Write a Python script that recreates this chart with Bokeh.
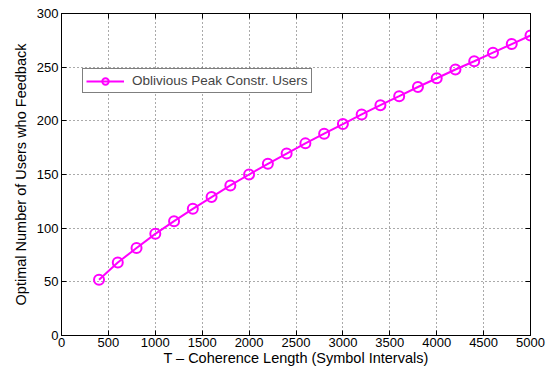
from bokeh.plotting import figure
from bokeh.models import LinearAxis, Range1d, FixedTicker, Legend, LegendItem
from bokeh.embed import file_html
from bokeh.resources import INLINE

coherence_length = [400, 600, 800, 1000, 1200, 1400, 1600, 1800, 2000, 2200, 2400, 2600,
                    2800, 3000, 3200, 3400, 3600, 3800, 4000, 4200, 4400, 4600, 4800, 5000]
optimal_users = [52, 68, 81.5, 94.7, 106.5, 118, 129, 139.8, 150, 160, 169.5, 179,
                 188, 197, 206, 214.6, 223, 231.5, 239.7, 247.8, 255.5, 263.5, 271.5, 279.5]
x_ticks = [0, 500, 1000, 1500, 2000, 2500, 3000, 3500, 4000, 4500, 5000]
y_ticks = [0, 50, 100, 150, 200, 250, 300]
series_name = "Oblivious Peak Constr. Users"

FONT = "Liberation Sans"
MAGENTA = "#ff00ff"

p = figure(width=548, height=371, output_backend="svg", toolbar_location=None,
           x_range=Range1d(0, 5000), y_range=Range1d(0, 300),
           min_border_left=61, min_border_right=18, min_border_top=13, min_border_bottom=36)
p.outline_line_color = "black"
p.outline_line_width = 1
p.background_fill_color = "white"
p.border_fill_color = "white"

for ax in (p.xaxis[0], p.yaxis[0]):
    ax.major_tick_in = 5
    ax.major_tick_out = 0
    ax.minor_tick_in = 0
    ax.minor_tick_out = 0
    ax.axis_line_color = "black"
    ax.major_label_text_font = FONT
    ax.major_label_text_font_size = "13px"
    ax.major_label_text_color = "black"
    ax.axis_label_text_font = FONT
    ax.axis_label_text_font_size = "14.5px"
    ax.axis_label_text_font_style = "normal"
    ax.axis_label_text_color = "black"

p.xaxis[0].ticker = FixedTicker(ticks=x_ticks)
p.yaxis[0].ticker = FixedTicker(ticks=y_ticks)
p.xaxis[0].axis_label = "T \u2013 Coherence Length (Symbol Intervals)"
p.yaxis[0].axis_label = "Optimal Number of Users who Feedback"
p.xaxis[0].major_label_standoff = 2
p.xaxis[0].axis_label_standoff = 0
p.yaxis[0].major_label_standoff = 3
p.yaxis[0].axis_label_standoff = 5

top = LinearAxis(ticker=FixedTicker(ticks=x_ticks), major_label_text_font_size="0px",
                 major_tick_in=5, major_tick_out=0, minor_tick_in=0, minor_tick_out=0,
                 major_label_standoff=0)
right = LinearAxis(ticker=FixedTicker(ticks=y_ticks), major_label_text_font_size="0px",
                   major_tick_in=5, major_tick_out=0, minor_tick_in=0, minor_tick_out=0,
                   major_label_standoff=0)
p.add_layout(top, "above")
p.add_layout(right, "right")

for g in (p.xgrid[0], p.ygrid[0]):
    g.grid_line_color = "#555555"
    g.grid_line_dash = "1 3"
    g.grid_line_width = 1
p.xgrid[0].ticker = FixedTicker(ticks=x_ticks)
p.ygrid[0].ticker = FixedTicker(ticks=y_ticks)

ln = p.line(coherence_length, optimal_users, line_color=MAGENTA, line_width=2)
sc = p.scatter(coherence_length, optimal_users, marker="circle", size=10,
               line_color=MAGENTA, line_width=2, fill_color=None)

legend = Legend(items=[LegendItem(label=series_name, renderers=[ln, sc])],
                border_line_color="black", border_line_width=1,
                background_fill_alpha=1, label_text_font=FONT, label_text_font_size="13.5px",
                glyph_width=38, glyph_height=16, padding=3, margin=0, spacing=0,
                label_standoff=8, label_height=17)
p.add_layout(legend, "center")
legend.location = (21, 242)

open("out.html", "w").write(file_html(p, INLINE))
